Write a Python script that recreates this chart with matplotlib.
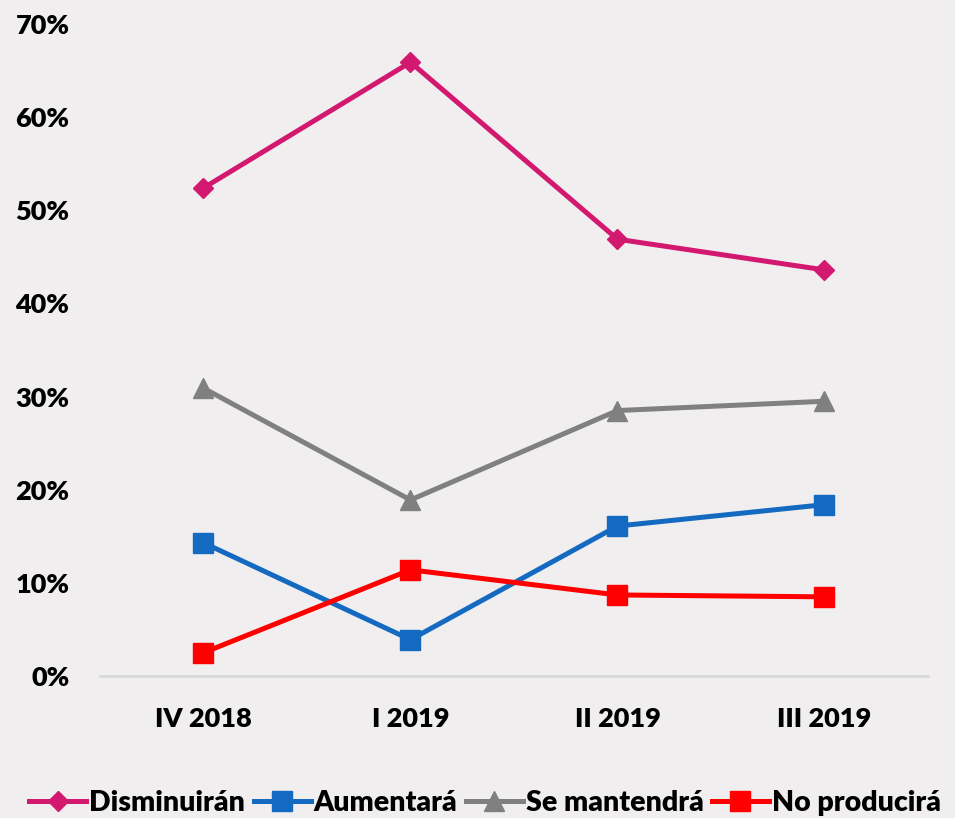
import matplotlib.pyplot as plt
from matplotlib.ticker import FuncFormatter

periodos = ["IV 2018", "I 2019", "II 2019", "III 2019"]
disminuiran = [52.4, 65.9, 46.9, 43.6]
se_mantendra = [30.9, 18.9, 28.5, 29.5]
aumentara = [14.3, 3.9, 16.1, 18.4]
no_producira = [2.5, 11.4, 8.7, 8.5]

bg = "#F0EEEF"
plt.rcParams["font.family"] = ["Lato", "DejaVu Sans"]

fig = plt.figure(figsize=(9.55, 8.18), dpi=100, facecolor=bg)
ax = fig.add_axes([0.1047, 0.1736, 0.867, 0.797])
ax.set_facecolor(bg)

x = range(len(periodos))
ax.plot(x, disminuiran, color="#D3186F", lw=3.6, marker="D", ms=10, label="Disminuirán")
ax.plot(x, aumentara, color="#1469C0", lw=3.6, marker="s", ms=14, label="Aumentará")
ax.plot(x, se_mantendra, color="#808080", lw=3.6, marker="^", ms=14, label="Se mantendrá")
ax.plot(x, no_producira, color="#FF0000", lw=3.6, marker="s", ms=14, label="No producirá")

ax.set_xlim(-0.5, len(periodos) - 0.5)
ax.set_ylim(0, 70)
ax.set_yticks(range(0, 71, 10))
ax.yaxis.set_major_formatter(FuncFormatter(lambda v, p: f"{v:.0f}%"))
ax.set_xticks(list(x))
ax.set_xticklabels(periodos)
ax.tick_params(axis="both", length=0, labelsize=19.5)
ax.tick_params(axis="y", pad=22)
ax.tick_params(axis="x", pad=22)
for lab in ax.get_xticklabels() + ax.get_yticklabels():
    lab.set_fontweight("heavy")

for s in ["top", "right", "left"]:
    ax.spines[s].set_visible(False)
ax.spines["bottom"].set_color("#D9D9D9")
ax.spines["bottom"].set_linewidth(2)

leg = fig.legend(loc="lower center", bbox_to_anchor=(0.508, -0.012), ncol=4, frameon=False,
                 prop={"weight": "heavy", "size": 20.5}, handlelength=2.0, handletextpad=0.1,
                 columnspacing=0.3, borderaxespad=0)

fig.savefig("out.png", dpi=100, facecolor=bg)
